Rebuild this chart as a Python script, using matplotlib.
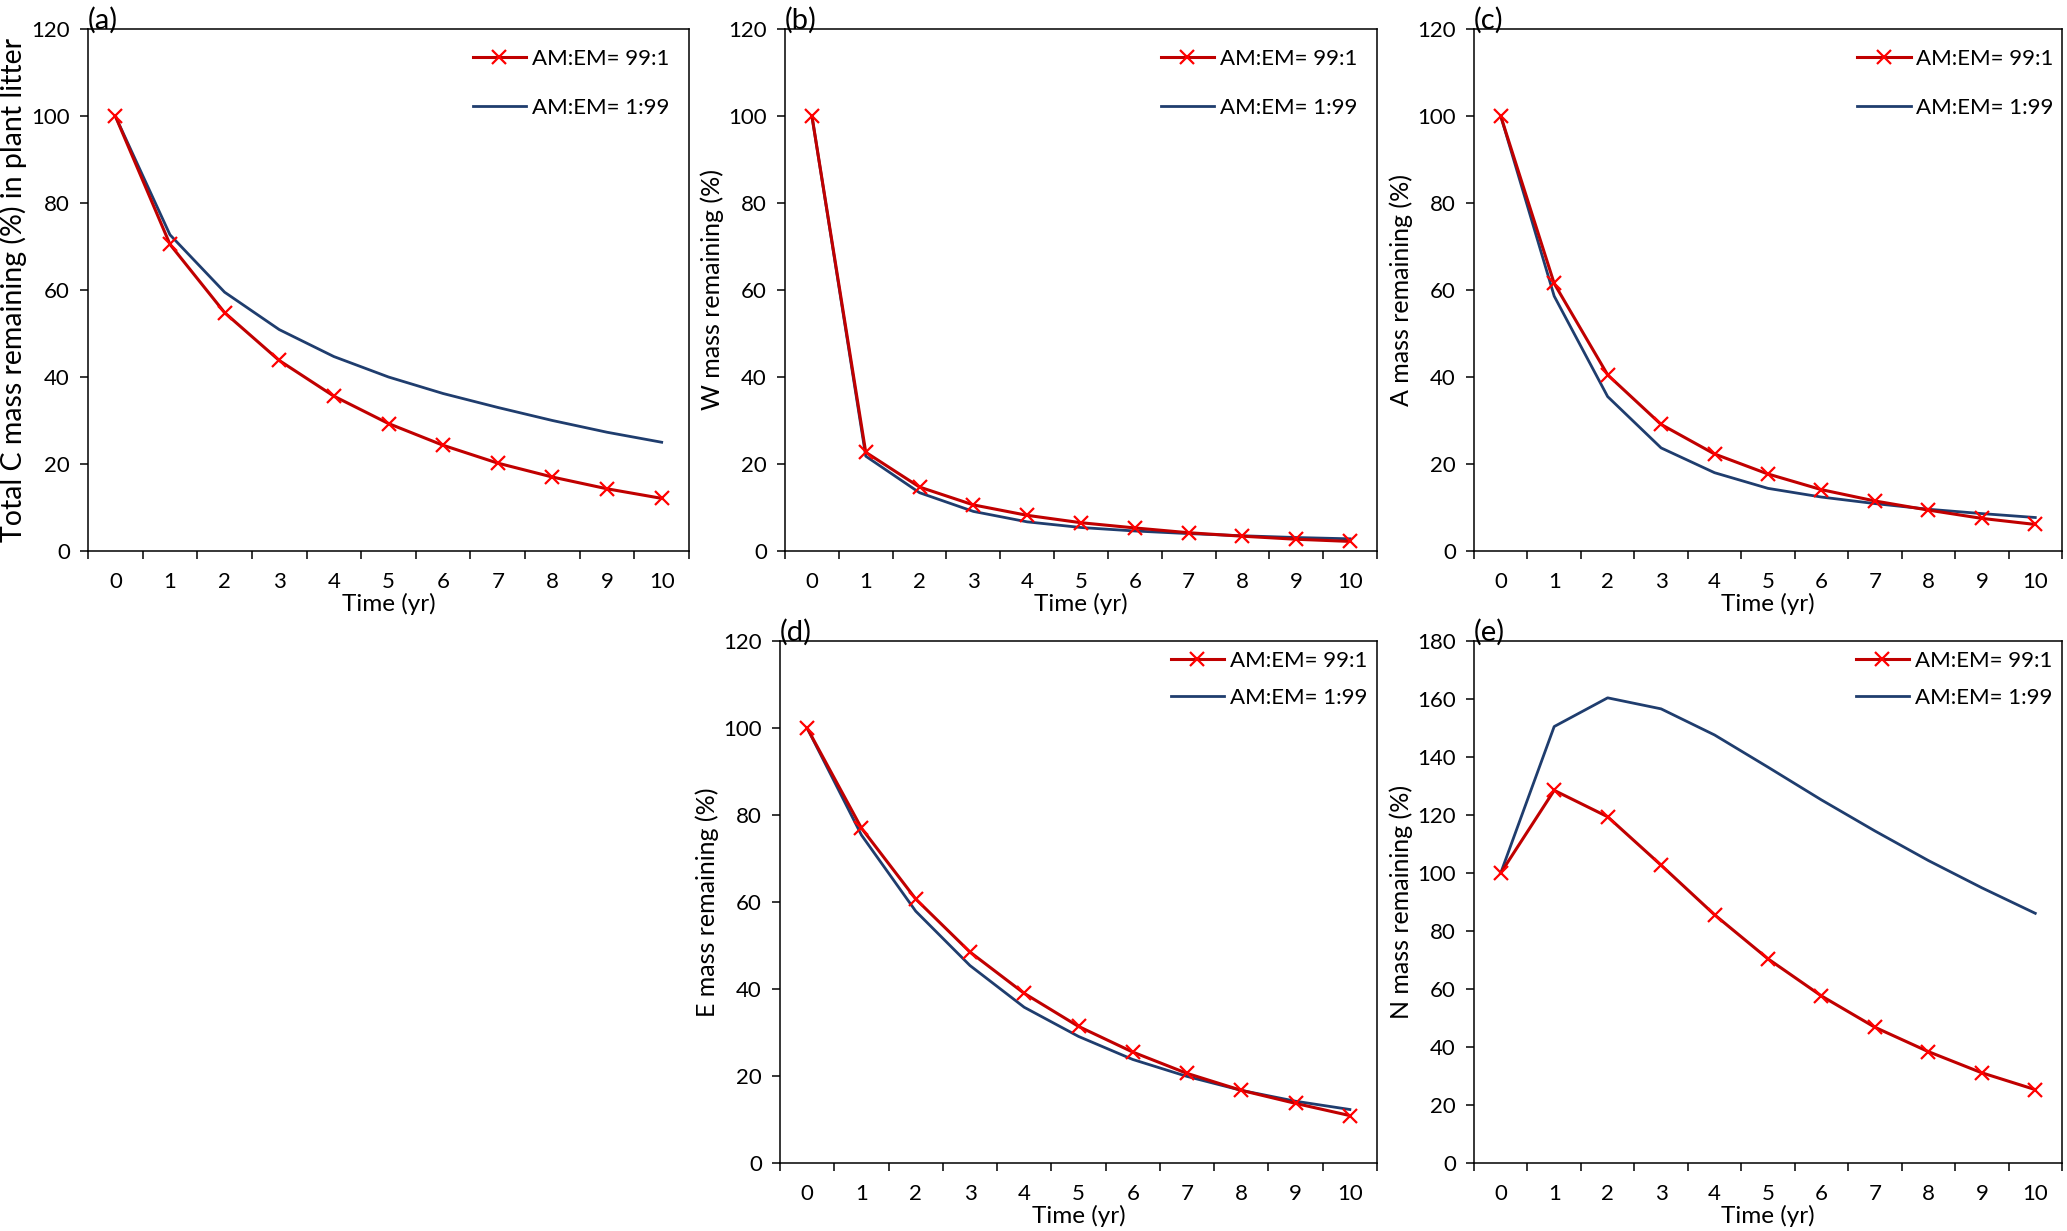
import numpy as np
import matplotlib
matplotlib.use("Agg")
import matplotlib.pyplot as plt
from matplotlib.ticker import FixedLocator

plt.rcParams['font.family'] = ['Lato', 'DejaVu Sans']

years = [0, 1, 2, 3, 4, 5, 6, 7, 8, 9, 10]
label_am = "AM:EM= 99:1"
label_em = "AM:EM= 1:99"

# (a) total C
c_am = [100, 70.5, 54.8, 43.8, 35.6, 29.3, 24.3, 20.2, 17.0, 14.3, 12.1]
c_em = [100, 72.7, 59.5, 50.9, 44.7, 40.0, 36.2, 33.0, 30.0, 27.3, 25.0]
# (b) W
w_am = [100, 22.7, 14.7, 10.6, 8.2, 6.5, 5.3, 4.2, 3.4, 2.7, 2.2]
w_em = [100, 21.8, 13.4, 9.1, 6.7, 5.4, 4.6, 4.0, 3.5, 3.1, 2.8]
# (c) A
a_am = [100, 61.5, 40.5, 29.1, 22.3, 17.7, 14.1, 11.5, 9.4, 7.5, 6.1]
a_em = [100, 58.6, 35.5, 23.7, 18.0, 14.4, 12.4, 10.9, 9.6, 8.6, 7.7]
# (d) E
e_am = [100, 77.0, 60.7, 48.5, 39.0, 31.4, 25.5, 20.6, 16.7, 13.7, 10.9]
e_em = [100, 75.4, 57.9, 45.4, 35.8, 29.1, 23.8, 19.9, 16.7, 14.2, 12.3]
# (e) N
n_am = [100, 128.5, 119.4, 102.7, 85.6, 70.4, 57.6, 46.8, 38.4, 31.1, 25.3]
n_em = [100, 150.5, 160.4, 156.6, 147.6, 136.5, 125.2, 114.5, 104.3, 94.9, 86.1]

RED_LINE = "#C00000"
RED_MARK = "#FF0000"
BLUE = "#1F3D6E"

W, H = 2067, 1231
fig = plt.figure(figsize=(W / 100, H / 100), dpi=100)


def box(l, r, t, b):
    return [l / W, 1 - b / H, (r - l) / W, (b - t) / H]


# tag, rect, data, ymax, ylabel, ylabel size, legend spacing, legend pad, legend x shift
panels = [
    ("(a)", box(88, 689, 29, 551), c_am, c_em, 120,
     "Total C mass remaining (%) in plant litter", 20.5, 1.3, 0.5, 0.0),
    ("(b)", box(785, 1377, 29, 551), w_am, w_em, 120,
     "W mass remaining (%)", 18, 1.3, 0.5, 0.0),
    ("(c)", box(1474, 2062, 29, 551), a_am, a_em, 120,
     "A mass remaining (%)", 18, 1.3, 0.5, 0.02),
    ("(d)", box(780, 1377, 641, 1163), e_am, e_em, 120,
     "E mass remaining (%)", 18, 0.75, 0.05, 0.0),
    ("(e)", box(1474, 2062, 641, 1163), n_am, n_em, 180,
     "N mass remaining (%)", 18, 0.75, 0.05, 0.0),
]

for tag, rect, am, em, ymax, ylabel, ysize, lspace, lpad, lshift in panels:
    ax = fig.add_axes(rect)
    ax.plot(years, em, color=BLUE, lw=2.0, label=label_em, zorder=2)
    ax.plot(years, am, color=RED_LINE, lw=2.2, marker="x", ms=10,
            mec=RED_MARK, mew=1.6, label=label_am, zorder=3)
    ax.set_xlim(-0.5, 10.5)
    ax.set_ylim(0, ymax)
    ax.set_yticks(np.arange(0, ymax + 1, 20))
    ax.set_xticks(years)
    ax.xaxis.set_minor_locator(FixedLocator(np.arange(-0.5, 11, 1)))
    ax.tick_params(axis="x", which="major", length=0, pad=15, labelsize=16)
    ax.tick_params(axis="x", which="minor", length=6, width=1.1, direction="out")
    ax.tick_params(axis="y", which="major", length=6, width=1.1, direction="out",
                   labelsize=16, pad=7)
    for s in ax.spines.values():
        s.set_linewidth(1.1)
    ax.set_xlabel("Time (yr)", fontsize=17.5, labelpad=1)
    ax.set_ylabel(ylabel, fontsize=ysize, labelpad=3)
    ax.text(0.0, 0.99, tag, transform=ax.transAxes, ha="left", va="bottom",
            fontsize=21)
    h, l = ax.get_legend_handles_labels()
    ax.legend(h[::-1], l[::-1], loc="upper right", bbox_to_anchor=(1 + lshift, 1),
              frameon=False, fontsize=16, handlelength=2.4, handletextpad=0.25,
              labelspacing=lspace, borderaxespad=lpad)

fig.savefig("out.png", dpi=100)
